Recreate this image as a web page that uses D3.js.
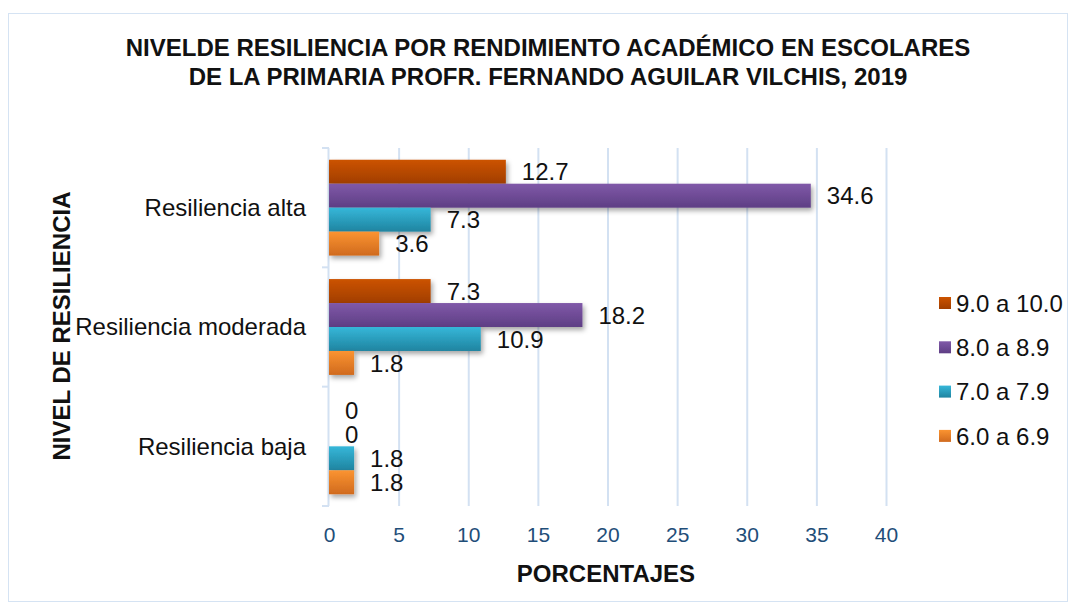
<!DOCTYPE html>
<html>
<head>
<meta charset="utf-8">
<script src="https://cdn.jsdelivr.net/npm/d3@7"></script>
<style>
  html, body { margin: 0; padding: 0; background: #fff; }
  svg { display: block; font-family: Arial, "Liberation Sans", sans-serif; }
</style>
</head>
<body>
<svg id="chart" width="1076" height="610"></svg>
<script>
// Resilience levels (top to bottom) and grade ranges (series)
const categories = ["Resiliencia alta", "Resiliencia moderada", "Resiliencia baja"];
const seriesNames = ["9.0 a 10.0", "8.0 a 8.9", "7.0 a 7.9", "6.0 a 6.9"];
const s90to100 = [12.7, 7.3, 0];
const s80to89 = [34.6, 18.2, 0];
const s70to79 = [7.3, 10.9, 1.8];
const s60to69 = [3.6, 1.8, 1.8];
const xTicks = [0, 5, 10, 15, 20, 25, 30, 35, 40];

const seriesValues = [s90to100, s80to89, s70to79, s60to69];
const palette = [
  ["#cc5300", "#a13e00"],
  ["#8059a8", "#5e3e84"],
  ["#36b7d9", "#1f84a0"],
  ["#fb9431", "#d06a1e"]
];

const FONT = "Arial, 'Liberation Sans', sans-serif";
const svg = d3.select("#chart");
const defs = svg.append("defs");

palette.forEach((c, i) => {
  const g = defs.append("linearGradient")
    .attr("id", "grad" + i).attr("x1", 0).attr("y1", 0).attr("x2", 0).attr("y2", 1);
  g.append("stop").attr("offset", "0%").attr("stop-color", c[0]);
  g.append("stop").attr("offset", "100%").attr("stop-color", c[1]);
});

const shadow = defs.append("filter").attr("id", "shadow")
  .attr("x", "-10%").attr("y", "-20%").attr("width", "130%").attr("height", "160%");
shadow.append("feDropShadow").attr("dx", 2).attr("dy", 3).attr("stdDeviation", 2.5)
  .attr("flood-color", "#000").attr("flood-opacity", 0.35);

// Outer frame
svg.append("rect").attr("x", 8.5).attr("y", 13.5).attr("width", 1059).attr("height", 588)
  .attr("fill", "#fff").attr("stroke", "#d5e3f3").attr("stroke-width", 1);

// Title
const title = svg.append("text").attr("text-anchor", "middle")
  .attr("font-weight", "bold").attr("font-size", 24).attr("fill", "#111");
title.append("tspan").attr("x", 548).attr("y", 56)
  .text("NIVELDE RESILIENCIA POR RENDIMIENTO ACADÉMICO EN ESCOLARES");
title.append("tspan").attr("x", 548).attr("y", 85)
  .text("DE LA PRIMARIA PROFR. FERNANDO AGUILAR VILCHIS, 2019");

// Plot area
const plot = { left: 329, right: 886, top: 148, bottom: 506 };

const x = d3.scaleLinear().domain([0, 40]).range([plot.left, plot.right]);
const y = d3.scaleBand().domain(categories).range([plot.top, plot.bottom]).paddingInner(0).paddingOuter(0);
const inner = d3.scaleBand().domain(d3.range(seriesNames.length))
  .range([0, y.bandwidth()]).paddingInner(0).paddingOuter(0.49);

// Vertical gridlines
svg.append("g").selectAll("line").data(xTicks.slice(1)).join("line")
  .attr("x1", d => x(d) + 0.5).attr("x2", d => x(d) + 0.5)
  .attr("y1", plot.top).attr("y2", plot.bottom)
  .attr("stroke", "#d3e1f2").attr("stroke-width", 2);

// Category axis line with separator ticks
svg.append("line").attr("x1", plot.left - 0.5).attr("x2", plot.left - 0.5)
  .attr("y1", plot.top).attr("y2", plot.bottom)
  .attr("stroke", "#d3e1f2").attr("stroke-width", 2);
svg.append("g").selectAll("line").data(d3.range(categories.length + 1)).join("line")
  .attr("x1", plot.left - 7).attr("x2", plot.left)
  .attr("y1", i => plot.top + i * y.bandwidth()).attr("y2", i => plot.top + i * y.bandwidth())
  .attr("stroke", "#d3e1f2").attr("stroke-width", 2);

// X axis tick labels
const xAxis = d3.axisBottom(x).tickValues(xTicks).tickSize(0).tickPadding(0);
const xg = svg.append("g").attr("transform", `translate(0,${plot.bottom + 21})`).call(xAxis);
xg.select(".domain").remove();
xg.selectAll("text").attr("font-size", 21).attr("fill", "#1f4e79")
  .attr("font-family", FONT).attr("dy", "0.71em");

// Category labels
const yAxis = d3.axisLeft(y).tickSize(0).tickPadding(23);
const yg = svg.append("g").attr("transform", `translate(${plot.left},0)`).call(yAxis);
yg.select(".domain").remove();
yg.selectAll("text").attr("font-size", 24).attr("fill", "#111")
  .attr("font-family", FONT).attr("dy", "0.35em");

// Bars
const bars = [];
categories.forEach((cat, ci) => {
  seriesValues.forEach((vals, si) => {
    bars.push({ cat, si, v: vals[ci] });
  });
});

svg.append("g").selectAll("rect").data(bars.filter(d => d.v > 0)).join("rect")
  .attr("x", x(0))
  .attr("y", d => y(d.cat) + inner(d.si))
  .attr("width", d => x(d.v) - x(0))
  .attr("height", inner.bandwidth())
  .attr("fill", d => `url(#grad${d.si})`)
  .attr("filter", "url(#shadow)");

// Value labels
svg.append("g").selectAll("text").data(bars).join("text")
  .attr("x", d => x(d.v) + 16)
  .attr("y", d => y(d.cat) + inner(d.si) + inner.bandwidth() / 2)
  .attr("dy", "0.36em")
  .attr("font-size", 24).attr("fill", "#111")
  .text(d => d.v);

// Axis titles
svg.append("text").attr("x", 606).attr("y", 582).attr("text-anchor", "middle")
  .attr("font-weight", "bold").attr("font-size", 24).attr("fill", "#111").text("PORCENTAJES");
svg.append("text").attr("transform", "translate(70,326) rotate(-90)").attr("text-anchor", "middle")
  .attr("font-weight", "bold").attr("font-size", 24).attr("fill", "#111").text("NIVEL DE RESILIENCIA");

// Legend
const legend = svg.append("g").selectAll("g").data(seriesNames).join("g")
  .attr("transform", (d, i) => `translate(939,${303 + i * 44.3})`);
legend.append("rect").attr("x", 0).attr("y", -6).attr("width", 12).attr("height", 12)
  .attr("fill", (d, i) => `url(#grad${i})`);
legend.append("text").attr("x", 17).attr("y", 0).attr("dy", "0.36em")
  .attr("font-size", 24).attr("fill", "#111").text(d => d);
</script>
</body>
</html>
